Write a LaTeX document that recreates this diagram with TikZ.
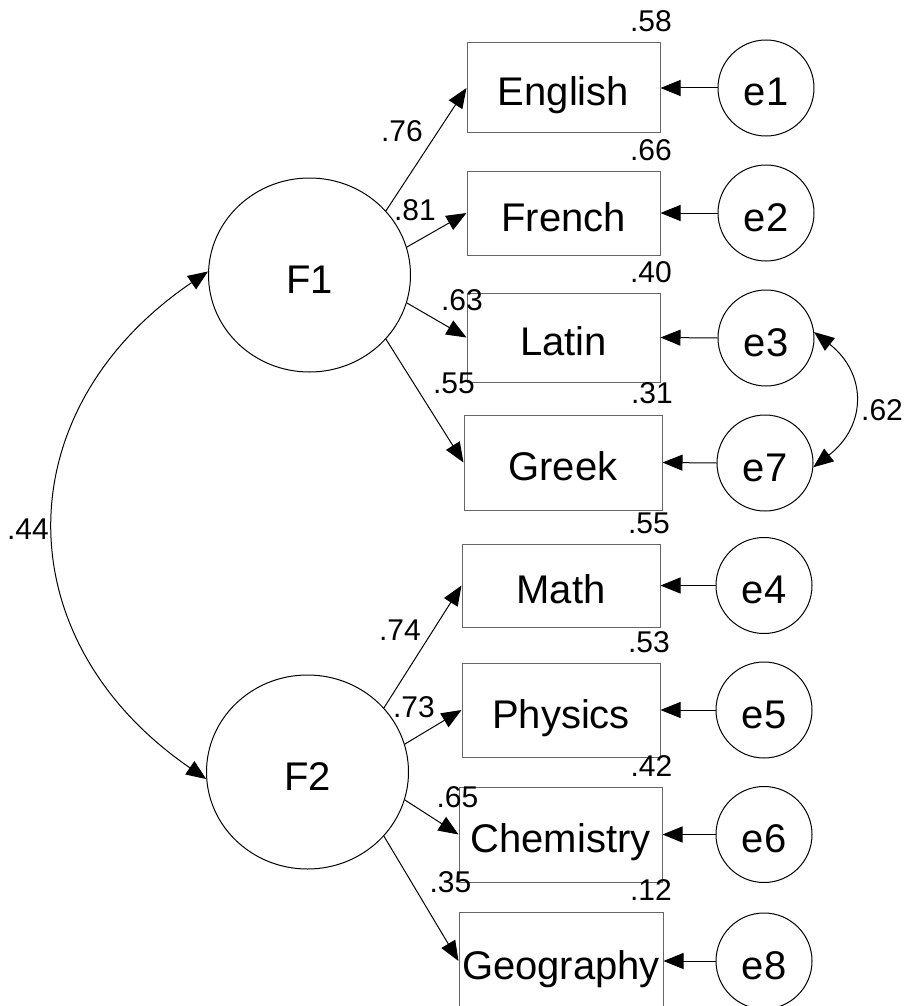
\documentclass[tikz,border=0pt]{standalone}
\usepackage{fontspec}
\setmainfont{Liberation Sans}
\usetikzlibrary{arrows.meta,shapes.geometric}
\begin{document}
\begin{tikzpicture}[x=1pt,y=-1pt,
  big/.style={font=\fontsize{40}{40}\selectfont, text height=36pt, text depth=0pt, inner sep=0pt},
  obs/.style={big, draw=black!60, line width=1pt, rectangle},
  lat/.style={big, draw=black, line width=1pt, ellipse, minimum width=202pt, minimum height=194pt},
  err/.style={big, draw=black, line width=1pt, circle, minimum size=96pt},
  num/.style={font=\fontsize{30}{30}\selectfont, anchor=base, inner sep=0pt},
  arr/.style={draw, line width=1pt, -{Triangle[length=20pt,width=16pt]}},
  cov/.style={draw, line width=1pt, {Triangle[length=20pt,width=16pt]}-{Triangle[length=20pt,width=16pt]}}
]
\useasboundingbox (0,0) rectangle (906,1006);

% latent factors
\node[lat] (F1) at (309.5,275) {F1};
\node[lat] (F2) at (307.5,772) {F2};

% observed variables
\node[obs, minimum width=193pt, minimum height=90pt] (English) at (563.5,88) {English};
\node[obs, minimum width=193pt, minimum height=84pt] (French) at (563.5,213) {French};
\node[obs, minimum width=193pt, minimum height=89pt] (Latin) at (563.5,337.5) {Latin};
\node[obs, minimum width=198pt, minimum height=95pt] (Greek) at (563,462.5) {Greek};
\node[obs, minimum width=198pt, minimum height=83pt] (Math) at (561,585.5) {Math};
\node[obs, minimum width=198pt, minimum height=94pt] (Physics) at (561,710) {Physics};
\node[obs, minimum width=203pt, minimum height=95pt] (Chemistry) at (560.5,834.5) {Chemistry};
\node[obs, minimum width=204pt, minimum height=98pt] (Geography) at (561,961) {Geography};

% error terms
\node[err] (e1) at (766,88) {e1};
\node[err] (e2) at (766,213) {e2};
\node[err] (e3) at (766,338) {e3};
\node[err] (e7) at (765,463) {e7};
\node[err] (e4) at (764,585.5) {e4};
\node[err] (e5) at (764,710) {e5};
\node[err] (e6) at (764,834.5) {e6};
\node[err] (e8) at (764,961) {e8};

% loadings
\draw[arr] (F1.40) -- (English.west);
\draw[arr] (F1.16) -- (French.west);
\draw[arr] (F1.-16) -- (Latin.west);
\draw[arr] (F1.-40) -- (Greek.west);
\draw[arr] (F2.40) -- (Math.west);
\draw[arr] (F2.16) -- (Physics.west);
\draw[arr] (F2.-16) -- (Chemistry.west);
\draw[arr] (F2.-40) -- (Geography.west);

% errors to indicators
\draw[arr] (e1.west) -- (English.east);
\draw[arr] (e2.west) -- (French.east);
\draw[arr] (e3.west) -- (Latin.east);
\draw[arr] (e7.west) -- (Greek.east);
\draw[arr] (e4.west) -- (Math.east);
\draw[arr] (e5.west) -- (Physics.east);
\draw[arr] (e6.west) -- (Chemistry.east);
\draw[arr] (e8.west) -- (Geography.east);

% covariances
\draw[cov] (F1.178) .. controls (4,410) and (4,640) .. (F2.184);
\draw[cov] (e3.7) .. controls (867,373.5) and (867,425.5) .. (e7.-5);

% squared multiple correlations
\node[num] at (651,32) {.58};
\node[num] at (651,160) {.66};
\node[num] at (651,282) {.40};
\node[num] at (652,403) {.31};
\node[num] at (649,533) {.55};
\node[num] at (649,652) {.53};
\node[num] at (651.5,776) {.42};
\node[num] at (651,900) {.12};

% loading values
\node[num] at (402,142) {.76};
\node[num] at (415,220) {.81};
\node[num] at (462,310) {.63};
\node[num] at (454,393) {.55};
\node[num] at (400,640) {.74};
\node[num] at (414,717) {.73};
\node[num] at (457.5,807) {.65};
\node[num] at (450.5,892) {.35};

% correlations
\node[num] at (28,539) {.44};
\node[num] at (882,420) {.62};
\end{tikzpicture}
\end{document}
